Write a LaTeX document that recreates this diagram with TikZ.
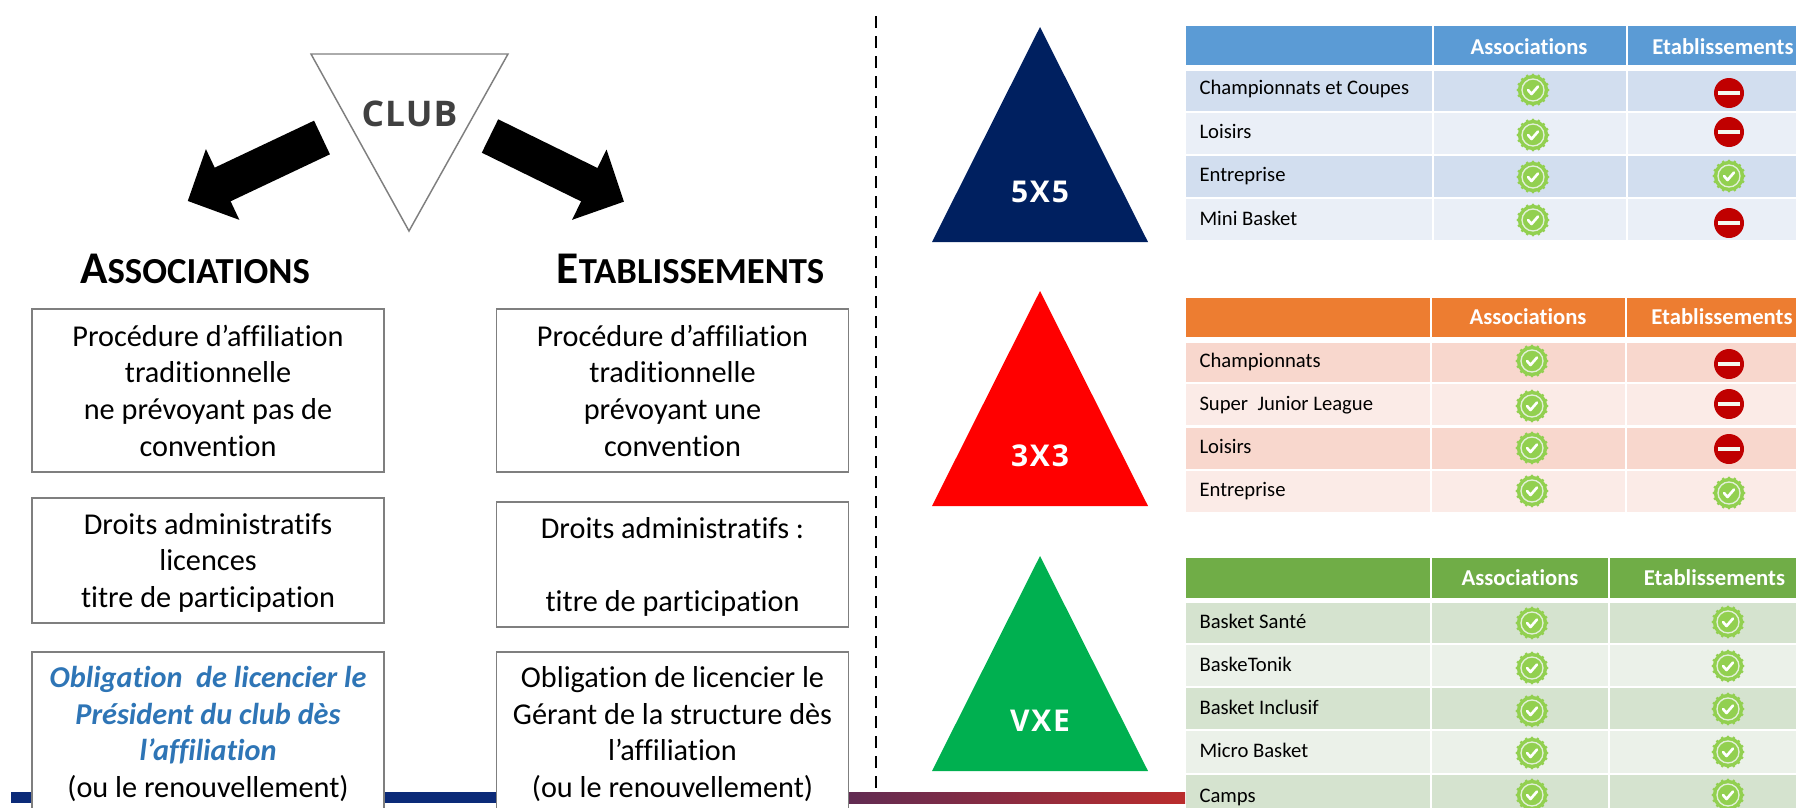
\documentclass[tikz,border=0pt]{standalone}
\usepackage{fontspec}
\setmainfont{Carlito}[Ligatures=NoCommon]
\newfontfamily\badgefont[LetterSpace=6]{Open Sans}
\newfontfamily\clubfont[LetterSpace=3]{Open Sans}
\usetikzlibrary{arrows.meta}

\definecolor{framegray}{RGB}{127,127,127}
\definecolor{clubgray}{RGB}{64,64,64}
\definecolor{linkblue}{RGB}{46,117,182}
\definecolor{barblue}{RGB}{11,42,120}
\definecolor{barred}{RGB}{186,44,44}
\definecolor{navytri}{RGB}{0,32,96}
\definecolor{greentri}{RGB}{0,176,80}
\definecolor{bluehead}{RGB}{91,155,213}
\definecolor{bluedark}{RGB}{210,222,239}
\definecolor{bluelight}{RGB}{234,239,247}
\definecolor{orangehead}{RGB}{237,125,49}
\definecolor{orangedark}{RGB}{248,215,205}
\definecolor{orangelight}{RGB}{251,235,231}
\definecolor{greenhead}{RGB}{112,173,71}
\definecolor{greendark}{RGB}{213,227,207}
\definecolor{greenlight}{RGB}{235,241,233}
\definecolor{okgreen}{RGB}{146,208,80}
\definecolor{okring}{RGB}{226,240,217}
\definecolor{stopred}{RGB}{192,0,0}

\tikzset{every picture/.style={line width=0.75pt}}
\tikzset{
  infobox/.style={draw=framegray,line width=1.1pt,fill=white,inner sep=0pt,minimum width=264pt,align=center,font=\fontsize{22.7}{27.5}\selectfont},
  sidehead/.style={anchor=base,inner sep=0pt,font=\bfseries},
  blockarrow/.style={line width=27.9pt,-{Triangle[length=29pt,width=57pt]}},
  tritext/.style={inner sep=0pt,text=white,font=\badgefont\bfseries\fontsize{22.5}{23}\selectfont},
  headtext/.style={anchor=base,inner sep=0pt,text=white,font=\bfseries\fontsize{17}{20}\selectfont},
  rowtext/.style={anchor=base west,inner sep=0pt,font=\fontsize{15.5}{18}\selectfont},
  okbadge/.pic={
    \fill[okgreen] (0,0) circle (15);
    \foreach \a in {0,22.5,...,337.5} \fill[okgreen] (\a:15) circle (1.7);
    \draw[okring,line width=1pt] (0,0) circle (11);
    \draw[white,line width=2pt,line cap=round,line join=round] (-5,0) -- (-1.5,-4) -- (5,3.5);
  },
  stopbadge/.pic={
    \fill[stopred] (0,0) circle (15);
    \fill[okring!40!white] (-11,-2) rectangle (11,2);
  },
}
\newcommand{\sidetitle}[2]{{\fontsize{34}{34}\selectfont #1}{\fontsize{27.5}{27.5}\selectfont #2}}
\newcommand{\pushdown}{\rule{0pt}{19pt}}

\begin{document}
\begin{tikzpicture}[x=0.75pt,y=0.75pt,yscale=-1,xscale=1]
\useasboundingbox (0,0) rectangle (1796,807);
\clip (0,0) rectangle (1796,808);

%Dashed separator
\draw [line width=1.8pt,dash pattern=on 9pt off 6pt] (876,16) -- (876,792) ;
%Bottom bar
\fill [barblue] (11,792) rectangle (520,803) ;
\shade [left color=barblue,right color=barred] (520,792) rectangle (1185,803) ;

%Triangle club
\draw [framegray,line width=1.1pt,fill=white] (311,54) -- (508,54) -- (409,231) -- cycle ;
\draw (409.5,114) node (club) [inner sep=0pt,text=clubgray,font=\clubfont\bfseries\fontsize{26.5}{27}\selectfont] {CLUB};

%Block arrows
\coordinate (assoctail) at (322,137.5);
\coordinate (assoctip) at (187.7,201);
\coordinate (etabtail) at (490,136);
\coordinate (etabtip) at (624,201.7);
\draw [blockarrow] (assoctail) -- (assoctip) ;
\draw [blockarrow] (etabtail) -- (etabtip) ;

% Text Node
\draw (195,283) node (assochead) [sidehead] {\sidetitle{A}{SSOCIATIONS}};
\draw (690.5,283) node (etabhead) [sidehead] {\sidetitle{E}{TABLISSEMENTS}};

% Left column
\draw (208,390.5) node (assocproc) [infobox,minimum height=122pt] {Procédure d’affiliation\\traditionnelle\\ne prévoyant pas de\\convention};
\draw (208,560.5) node (assocdroits) [infobox,minimum height=93.5pt] {\pushdown Droits administratifs\\licences\\titre de participation};
\draw (208,734) node (assocoblig) [infobox,minimum height=123pt] {\textcolor{linkblue}{\bfseries\itshape Obligation\ \ de licencier le}\\\textcolor{linkblue}{\bfseries\itshape Président du club dès}\\\textcolor{linkblue}{\bfseries\itshape l’affiliation}\\(ou le renouvellement)};
% Middle column
\draw (672.5,390.5) node (etabproc) [infobox,minimum height=122pt] {Procédure d’affiliation\\traditionnelle\\prévoyant une\\convention};
\draw (672.5,564.5) node (etabdroits) [infobox,minimum height=93.5pt] {\pushdown Droits administratifs :\\\mbox{}\\titre de participation};
\draw (672.5,734) node (etaboblig) [infobox,minimum height=123pt] {Obligation de licencier le\\Gérant de la structure dès\\l’affiliation\\(ou le renouvellement)};

%Triangles
\fill [navytri] (1040,27) -- (1148,242) -- (932,242) -- cycle ;
\fill [red] (1040,291) -- (1148,506) -- (932,506) -- cycle ;
\fill [greentri] (1040,556) -- (1148,771) -- (932,771) -- cycle ;
\draw (1040,191.5) node (fivetext) [tritext] {5X5};
\draw (1040,455.5) node (threetext) [tritext] {3X3};
\draw (1040,720.5) node (vxetext) [tritext] {VXE};

%Table 5x5
\fill [bluehead] (1186,26) rectangle (1432,65) ;
\fill [bluehead] (1434,26) rectangle (1626,65) ;
\fill [bluehead] (1628,26) rectangle (1796,65) ;
\fill [bluedark] (1186,71) rectangle (1432,111) ;
\fill [bluedark] (1434,71) rectangle (1626,111) ;
\fill [bluedark] (1628,71) rectangle (1796,111) ;
\fill [bluelight] (1186,113) rectangle (1432,154) ;
\fill [bluelight] (1434,113) rectangle (1626,154) ;
\fill [bluelight] (1628,113) rectangle (1796,154) ;
\fill [bluedark] (1186,156) rectangle (1432,197) ;
\fill [bluedark] (1434,156) rectangle (1626,197) ;
\fill [bluedark] (1628,156) rectangle (1796,197) ;
\fill [bluelight] (1186,199) rectangle (1432,240) ;
\fill [bluelight] (1434,199) rectangle (1626,240) ;
\fill [bluelight] (1628,199) rectangle (1796,240) ;
\draw (1529,54) node (fiveassoc) [headtext] {Associations};
\draw (1723,54) node (fiveetab) [headtext] {Etablissements};
\draw (1199,94) node (fivechamp) [rowtext] {Championnats et Coupes};
\draw (1199,138) node (fiveloisirs) [rowtext] {Loisirs};
\draw (1199,181) node (fiveentre) [rowtext] {Entreprise};
\draw (1199,225) node (fivemini) [rowtext] {Mini Basket};
\pic at (1533,90) {okbadge};
\pic at (1533,135) {okbadge};
\pic at (1533,177) {okbadge};
\pic at (1533,220) {okbadge};
\pic at (1729,93) {stopbadge};
\pic at (1729,132) {stopbadge};
\pic at (1729,176) {okbadge};
\pic at (1729,223) {stopbadge};

%Table 3x3
\fill [orangehead] (1186,298) rectangle (1430,337) ;
\fill [orangehead] (1432,298) rectangle (1625,337) ;
\fill [orangehead] (1627,298) rectangle (1796,337) ;
\fill [orangedark] (1186,343) rectangle (1430,382) ;
\fill [orangedark] (1432,343) rectangle (1625,382) ;
\fill [orangedark] (1627,343) rectangle (1796,382) ;
\fill [orangelight] (1186,384) rectangle (1430,425) ;
\fill [orangelight] (1432,384) rectangle (1625,425) ;
\fill [orangelight] (1627,384) rectangle (1796,425) ;
\fill [orangedark] (1186,428) rectangle (1430,469) ;
\fill [orangedark] (1432,428) rectangle (1625,469) ;
\fill [orangedark] (1627,428) rectangle (1796,469) ;
\fill [orangelight] (1186,471) rectangle (1430,512) ;
\fill [orangelight] (1432,471) rectangle (1625,512) ;
\fill [orangelight] (1627,471) rectangle (1796,512) ;
\draw (1528,324) node (threeassoc) [headtext] {Associations};
\draw (1722,324) node (threeetab) [headtext] {Etablissements};
\draw (1199,367) node (threechamp) [rowtext] {Championnats};
\draw (1199,410) node (threejunior) [rowtext] {Super\ \ Junior League};
\draw (1199,453) node (threeloisirs) [rowtext] {Loisirs};
\draw (1199,496) node (threeentre) [rowtext] {Entreprise};
\pic at (1532,361) {okbadge};
\pic at (1532,406) {okbadge};
\pic at (1532,448) {okbadge};
\pic at (1532,491) {okbadge};
\pic at (1729,364) {stopbadge};
\pic at (1729,404) {stopbadge};
\pic at (1729,449) {stopbadge};
\pic at (1729,493) {okbadge};

%Table VxE
\fill [greenhead] (1186,558) rectangle (1430,598) ;
\fill [greenhead] (1432,558) rectangle (1608,598) ;
\fill [greenhead] (1610,558) rectangle (1796,598) ;
\fill [greendark] (1186,603) rectangle (1430,643) ;
\fill [greendark] (1432,603) rectangle (1608,643) ;
\fill [greendark] (1610,603) rectangle (1796,643) ;
\fill [greenlight] (1186,645) rectangle (1430,686) ;
\fill [greenlight] (1432,645) rectangle (1608,686) ;
\fill [greenlight] (1610,645) rectangle (1796,686) ;
\fill [greendark] (1186,688) rectangle (1430,729) ;
\fill [greendark] (1432,688) rectangle (1608,729) ;
\fill [greendark] (1610,688) rectangle (1796,729) ;
\fill [greenlight] (1186,731) rectangle (1430,773) ;
\fill [greenlight] (1432,731) rectangle (1608,773) ;
\fill [greenlight] (1610,731) rectangle (1796,773) ;
\fill [greendark] (1186,775) rectangle (1430,808) ;
\fill [greendark] (1432,775) rectangle (1608,808) ;
\fill [greendark] (1610,775) rectangle (1796,808) ;
\draw (1520,585) node (vxeassoc) [headtext] {Associations};
\draw (1714.5,585) node (vxeetab) [headtext] {Etablissements};
\draw (1199,628) node (vxesante) [rowtext] {Basket Santé};
\draw (1199,671) node (vxetonik) [rowtext] {BaskeTonik};
\draw (1199,714) node (vxeinclu) [rowtext] {Basket Inclusif};
\draw (1199,757) node (vxemicro) [rowtext] {Micro Basket};
\draw (1199,802) node (vxecamps) [rowtext] {Camps};
\pic at (1532,623) {okbadge};
\pic at (1532,668) {okbadge};
\pic at (1532,711) {okbadge};
\pic at (1532,753) {okbadge};
\pic at (1532,795) {okbadge};
\pic at (1728,622) {okbadge};
\pic at (1728,666) {okbadge};
\pic at (1728,709) {okbadge};
\pic at (1728,752) {okbadge};
\pic at (1728,795) {okbadge};

\end{tikzpicture}
\end{document}
